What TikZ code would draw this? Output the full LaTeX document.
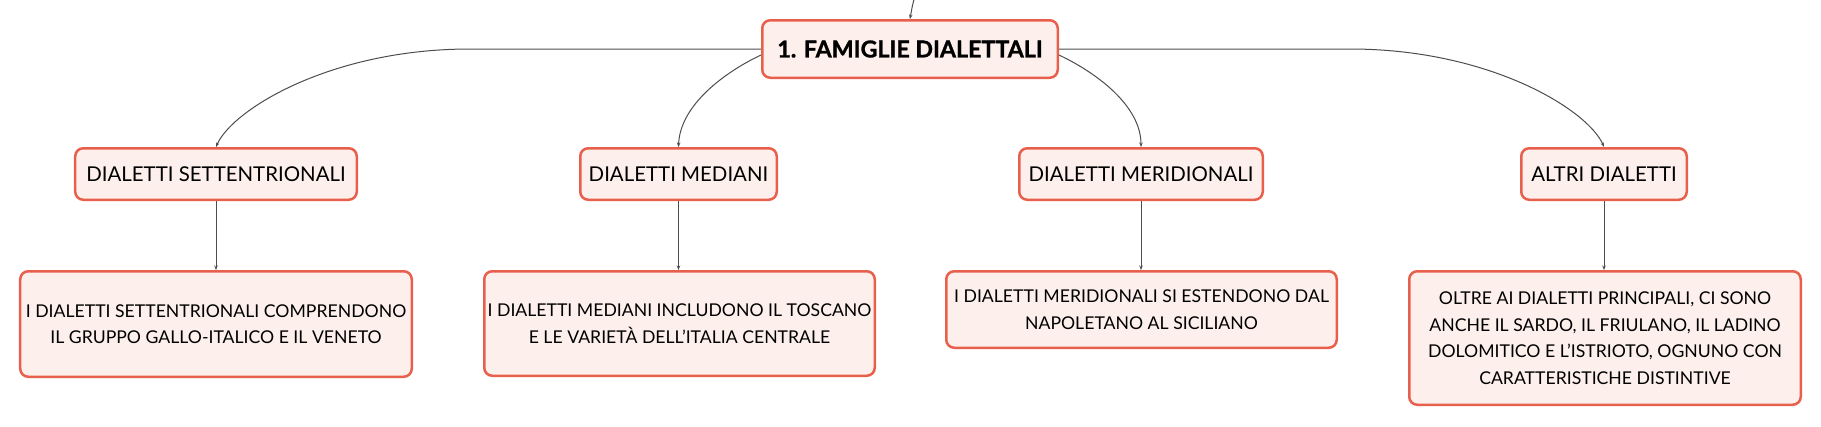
\documentclass[tikz,border=0pt]{standalone}
\usepackage{fontspec}
\setmainfont{Lato}
\newfontfamily\rootfont[BoldFeatures={FakeBold=1.2}]{Lato}
\usetikzlibrary{arrows.meta,calc}
\definecolor{boxred}{HTML}{E8604C}
\definecolor{boxfill}{HTML}{FDF0EC}
\definecolor{linegray}{HTML}{4D4D4D}
\tikzset{
  box/.style={draw=boxred, fill=boxfill, line width=2.5bp, rounded corners=8bp, inner sep=0pt, align=center, text=black},
  lvlone/.style={box, minimum height=51.5bp, font=\fontsize{20.5}{25}\selectfont},
  detail/.style={box, font=\fontsize{17.7}{26.7}\selectfont},
  conn/.style={draw=linegray, line width=1bp, -{Stealth[length=4.5bp,width=3.5bp]}},
}
\begin{document}
\begin{tikzpicture}[x=1bp,y=-1bp]
\useasboundingbox[fill=white] (0,0) rectangle (1821,426);
\node[box, minimum width=295.5bp, minimum height=57.5bp, font=\rootfont\bfseries\fontsize{23.3}{28}\selectfont] (root) at (910,49) {1. FAMIGLIE DIALETTALI};

\node[lvlone, minimum width=281.5bp] (s1) at (216,174) {DIALETTI SETTENTRIONALI};
\node[lvlone, minimum width=196.5bp] (s2) at (678.5,174) {DIALETTI MEDIANI};
\node[lvlone, minimum width=243.5bp] (s3) at (1141,174) {DIALETTI MERIDIONALI};
\node[lvlone, minimum width=165.5bp] (s4) at (1604,174) {ALTRI DIALETTI};

\node[detail, minimum width=391.5bp, minimum height=105.5bp] (d1) at (216,324) {I DIALETTI SETTENTRIONALI COMPRENDONO\\IL GRUPPO GALLO-ITALICO E IL VENETO};
\node[detail, minimum width=390.5bp, minimum height=104.5bp] (d2) at (679.5,323.5) {I DIALETTI MEDIANI INCLUDONO IL TOSCANO\\E LE VARIETÀ DELL’ITALIA CENTRALE};
\node[detail, minimum width=390.5bp, minimum height=76.5bp] (d3) at (1141.5,309.5) {I DIALETTI MERIDIONALI SI ESTENDONO DAL\\NAPOLETANO AL SICILIANO};
\node[detail, minimum width=391.5bp, minimum height=133.5bp] (d4) at (1605,338) {OLTRE AI DIALETTI PRINCIPALI, CI SONO\\ANCHE IL SARDO, IL FRIULANO, IL LADINO\\DOLOMITICO E L’ISTRIOTO, OGNUNO CON\\CARATTERISTICHE DISTINTIVE};

\coordinate (incoming) at (918,-12);
\coordinate (rootwl) at ($(root.west)+(0,6)$);
\coordinate (rootel) at ($(root.east)+(0,6)$);

\draw[conn] (incoming) .. controls (913,2) .. (root.north);
\draw[conn] (root.west) -- (470,49) .. controls (330,49) and (232,110) .. (s1.north);
\draw[conn] (rootwl) .. controls (725,72) and (680,105) .. (s2.north);
\draw[conn] (rootel) .. controls (1095,72) and (1141,105) .. (s3.north);
\draw[conn] (root.east) -- (1350,49) .. controls (1490,49) and (1588,110) .. (s4.north);

\draw[conn] (s1.south) -- (s1.south |- d1.north);
\draw[conn] (s2.south) -- (s2.south |- d2.north);
\draw[conn] (s3.south) -- (s3.south |- d3.north);
\draw[conn] (s4.south) -- (s4.south |- d4.north);
\end{tikzpicture}
\end{document}
